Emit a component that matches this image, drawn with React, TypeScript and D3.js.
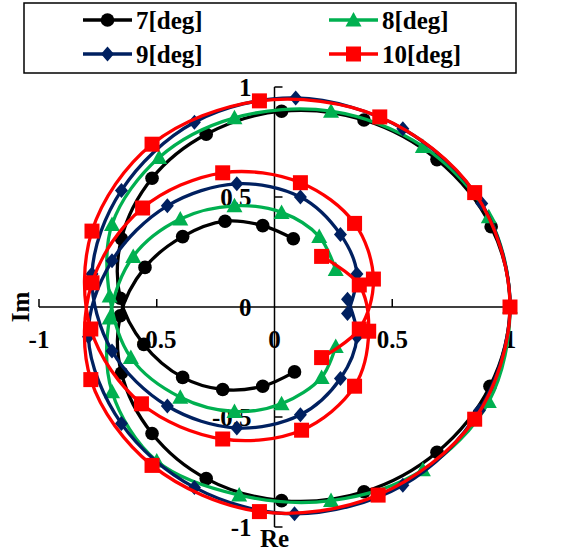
import React from "react";
import * as d3 from "d3";

type Pt = [number, number];

const W = 568;
const H = 553;

const seriesNames = ["7[deg]", "8[deg]", "9[deg]", "10[deg]"];
const seriesColors = ["#000000", "#00B050", "#002060", "#FF0000"];
const markerShapes = ["circle", "triangle", "diamond", "square"];

// Each locus runs from its upper inner end, around the lower outer arc,
// through (1, 0), over the upper outer arc and into its lower inner end.
const locus7: Pt[] = [
  [0.08, 0.31], [-0.05, 0.37], [-0.21, 0.39], [-0.39, 0.32], [-0.55, 0.18],
  [-0.655, -0.04], [-0.65, -0.3], [-0.52, -0.575], [-0.29, -0.78], [0.03, -0.88],
  [0.38, -0.84], [0.69, -0.66], [0.915, -0.36], [1, 0], [0.92, 0.365],
  [0.69, 0.67], [0.38, 0.85], [0.03, 0.89], [-0.29, 0.785], [-0.52, 0.585],
  [-0.65, 0.31], [-0.655, 0.04], [-0.555, -0.17], [-0.39, -0.32], [-0.22, -0.375],
  [-0.05, -0.36], [0.085, -0.295],
];

const locus8: Pt[] = [
  [0.26, 0.17], [0.19, 0.32], [0.03, 0.43], [-0.17, 0.46], [-0.4, 0.4],
  [-0.6, 0.23], [-0.7, -0.05], [-0.69, -0.385], [-0.5, -0.7], [-0.15, -0.855],
  [0.24, -0.88], [0.63, -0.74], [0.91, -0.43], [1, 0], [0.91, 0.41],
  [0.63, 0.73], [0.24, 0.89], [-0.17, 0.86], [-0.49, 0.68], [-0.69, 0.375],
  [-0.7, 0.05], [-0.61, -0.23], [-0.4, -0.41], [-0.17, -0.475], [0.03, -0.44],
  [0.2, -0.32], [0.26, -0.18],
];

const locus9: Pt[] = [
  [0.31, -0.03], [0.35, 0.15], [0.28, 0.33], [0.11, 0.5], [-0.16, 0.56],
  [-0.455, 0.46], [-0.69, 0.21], [-0.79, -0.135], [-0.65, -0.53], [-0.34, -0.82],
  [0.085, -0.94], [0.545, -0.81], [0.87, -0.47], [1, 0], [0.88, 0.47],
  [0.545, 0.81], [0.09, 0.95], [-0.34, 0.84], [-0.65, 0.53], [-0.775, 0.15],
  [-0.69, -0.2], [-0.455, -0.45], [-0.16, -0.55], [0.11, -0.49], [0.28, -0.325],
  [0.35, -0.135], [0.31, 0.035],
];

const locus10: Pt[] = [
  [0.2, -0.23], [0.36, -0.1], [0.42, 0.127], [0.34, 0.38], [0.11, 0.565],
  [-0.22, 0.61], [-0.56, 0.45], [-0.775, 0.11], [-0.78, -0.33], [-0.52, -0.72],
  [-0.064, -0.93], [0.44, -0.855], [0.85, -0.51], [1, 0], [0.85, 0.52],
  [0.447, 0.864], [-0.064, 0.937], [-0.52, 0.74], [-0.775, 0.345], [-0.78, -0.1],
  [-0.565, -0.44], [-0.22, -0.6], [0.115, -0.56], [0.34, -0.36], [0.4, -0.11],
  [0.36, 0.1], [0.2, 0.23],
];

const loci = [locus7, locus8, locus9, locus10];

const xTicks = [-1, -0.5, 0, 0.5, 1];
const xTickLabels = ["-1", "-0.5", "0", "0.5", "1"];
const yTicks = [-1, -0.5, 0, 0.5, 1];
const yTickLabels = ["-1", "-0.5", "0", "0.5", "1"];

const FONT = "'Liberation Serif', 'Times New Roman', serif";

const xs = d3.scaleLinear().domain([-1, 1]).range([39, 510]);
const ys = d3.scaleLinear().domain([-1, 1]).range([527, 87]);

const line = d3
  .line<Pt>()
  .x((d) => xs(d[0]))
  .y((d) => ys(d[1]))
  .curve(d3.curveCatmullRom.alpha(0.5));

function Marker({ shape, x, y, color }: { shape: string; x: number; y: number; color: string }) {
  if (shape === "circle") return <circle cx={x} cy={y} r={6.8} fill={color} />;
  if (shape === "square") return <rect x={x - 7.5} y={y - 7.5} width={15} height={15} fill={color} />;
  if (shape === "diamond")
    return <path d={`M${x},${y - 7.5}L${x + 6.5},${y}L${x},${y + 7.5}L${x - 6.5},${y}Z`} fill={color} />;
  return <path d={`M${x},${y - 8}L${x + 8},${y + 6.5}L${x - 8},${y + 6.5}Z`} fill={color} />;
}

export default function App() {
  const x0 = xs(0);
  const y0 = ys(0);
  const legendRows = [
    { col: 0, row: 0, i: 0 },
    { col: 1, row: 0, i: 1 },
    { col: 0, row: 1, i: 2 },
    { col: 1, row: 1, i: 3 },
  ];
  const colX = [83, 329];
  const rowY = [20, 54];

  return (
    <svg
      width={W}
      height={H}
      style={{ position: "absolute", left: 0, top: 0, background: "#fff" }}
      fontFamily={FONT}
      fontWeight="bold"
    >
      <rect x={0} y={0} width={W} height={H} fill="#fff" />

      {/* axes */}
      <g stroke="#000" strokeWidth={1.5} fill="none">
        <line x1={xs(-1)} x2={xs(1)} y1={y0} y2={y0} />
        <line x1={x0} x2={x0} y1={ys(-1)} y2={ys(1)} />
        {xTicks
          .filter((t) => t !== 0)
          .map((t) => (
            <line key={`xt${t}`} x1={xs(t)} x2={xs(t)} y1={y0} y2={y0 - 8} />
          ))}
        {yTicks
          .filter((t) => t !== 0)
          .map((t) => (
            <line key={`yt${t}`} x1={x0} x2={x0 + 8} y1={ys(t)} y2={ys(t)} />
          ))}
      </g>

      {xTicks.map((t, i) => (
        <text key={`xl${t}`} x={xs(t)} y={y0 + 41} textAnchor="middle" fontSize={25}>
          {xTickLabels[i]}
        </text>
      ))}
      {yTicks.map((t, i) => (
        <text key={`yl${t}`} x={x0 - 23} y={ys(t) + 9} textAnchor="end" fontSize={25}>
          {yTickLabels[i]}
        </text>
      ))}

      <text x={x0} y={547} textAnchor="middle" fontSize={25}>
        Re
      </text>
      <text transform={`translate(29,${y0}) rotate(-90)`} textAnchor="middle" fontSize={25}>
        Im
      </text>

      {/* loci */}
      {loci.map((pts, i) => (
        <g key={`s${i}`}>
          <path d={line(pts) ?? ""} fill="none" stroke={seriesColors[i]} strokeWidth={3.3} />
          {pts.map((p, j) => (
            <Marker key={j} shape={markerShapes[i]} x={xs(p[0])} y={ys(p[1])} color={seriesColors[i]} />
          ))}
        </g>
      ))}

      {/* legend */}
      <rect x={24} y={3} width={492} height={70} fill="#fff" stroke="#000" strokeWidth={1.5} />
      {legendRows.map(({ col, row, i }) => (
        <g key={`lg${i}`}>
          <line
            x1={colX[col]}
            x2={colX[col] + 49}
            y1={rowY[row]}
            y2={rowY[row]}
            stroke={seriesColors[i]}
            strokeWidth={3.3}
          />
          <Marker shape={markerShapes[i]} x={colX[col] + 24.5} y={rowY[row]} color={seriesColors[i]} />
          <text x={colX[col] + 53} y={rowY[row] + 9} fontSize={25}>
            {seriesNames[i]}
          </text>
        </g>
      ))}
    </svg>
  );
}
